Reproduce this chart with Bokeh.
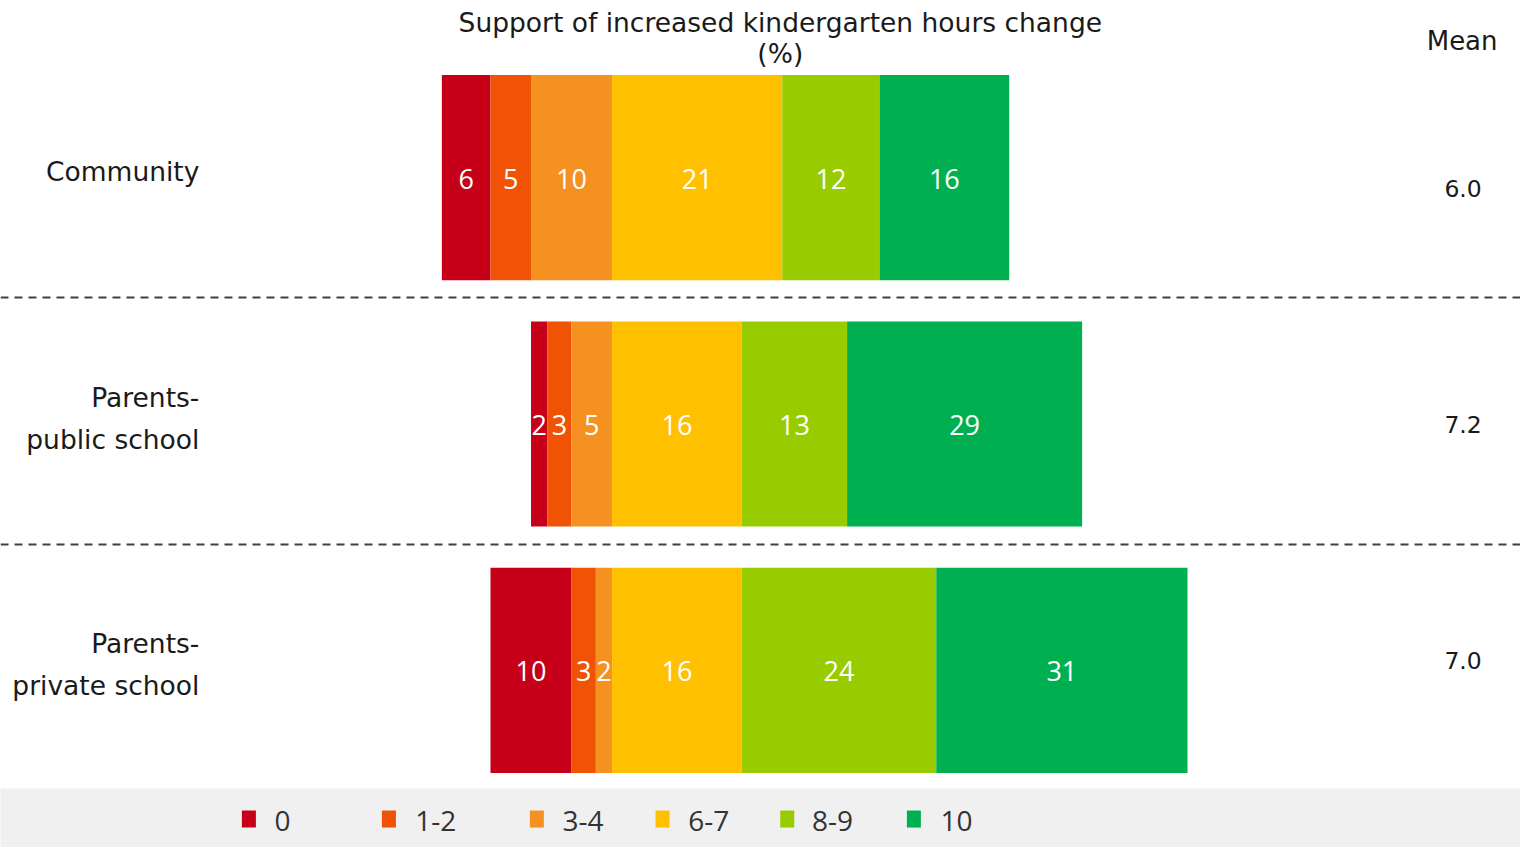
from bokeh.plotting import figure
from bokeh.models import Range1d, ColumnDataSource
from bokeh.core.properties import value
from bokeh.embed import file_html
from bokeh.resources import INLINE
import numpy as np

# ---------------- data ----------------
groups = ["Community", "Parents-\npublic school", "Parents-\nprivate school"]
categories = ["0", "1-2", "3-4", "6-7", "8-9", "10"]
colors = ["#C50018", "#F05206", "#F59120", "#FFC000", "#99CC00", "#00B050"]
v_0 = [6, 2, 10]
v_1_2 = [5, 3, 3]
v_3_4 = [10, 5, 2]
v_6_7 = [21, 16, 16]
v_8_9 = [12, 13, 24]
v_10 = [16, 29, 31]
means = ["6.0", "7.2", "7.0"]
title_lines = ["Support of increased kindergarten hours change", "(%)"]
mean_title = "Mean"

# ---------------- layout ----------------
W, H = 1520, 847
REF_W, REF_H = 1536, 863
PX_PER_UNIT = 8.19
ZERO_X = 618
ROW_PX = 251
ROW0_Y = 180.5

def dx(x):
    return (x - ZERO_X) / PX_PER_UNIT

def dy(y):
    return (y - ROW0_Y) / ROW_PX

p = figure(width=W, height=H, output_backend="svg", toolbar_location=None,
           x_range=Range1d(dx(0), dx(REF_W)), y_range=Range1d(dy(REF_H), dy(0)),
           min_border=0)
p.axis.visible = False
p.grid.visible = False
p.outline_line_color = None
p.background_fill_color = "white"
p.border_fill_color = "white"

rows = np.arange(len(groups))
BAR_H = 209 / ROW_PX
TXT = "#1a1a1a"

# legend band
p.quad(left=dx(-50), right=dx(1700), bottom=dy(803), top=dy(950),
       fill_color="#F0F0F0", line_color=None)

# stacked bars: negative side stacks leftward from zero
neg = [np.array(v_0), np.array(v_1_2), np.array(v_3_4)]
pos = [np.array(v_6_7), np.array(v_8_9), np.array(v_10)]
right = np.zeros(len(groups))
neg_segs = []
for vals in reversed(neg):
    left = right - vals
    neg_segs.append((left, right, vals))
    right = left
neg_segs = list(reversed(neg_segs))
left = np.zeros(len(groups))
pos_segs = []
for vals in pos:
    r = left + vals
    pos_segs.append((left, r, vals))
    left = r
segments = neg_segs + pos_segs

for (l, r, vals), c in zip(segments, colors):
    src = ColumnDataSource(dict(y=rows, left=l, right=r, mid=(l + r) / 2,
                                lab=[str(v) for v in vals]))
    p.hbar(y="y", left="left", right="right", height=BAR_H, source=src,
           fill_color=c, line_color=None)
    p.text(x="mid", y="y", text="lab", source=src, text_color="white",
           text_font=value("Open Sans"), text_font_size="27px",
           text_align="center", text_baseline="middle", y_offset=1)

# dashed separators
for i in range(len(groups) - 1):
    p.hspan(y=i + 0.5 - 3 / ROW_PX, line_color="#404040", line_width=2,
            line_dash="8 6")

# group labels (right aligned)
lx, ly, lt = [], [], []
for i, g in enumerate(groups):
    lines = g.split("\n")
    n = len(lines)
    for j, t in enumerate(lines):
        lx.append(dx(201))
        ly.append(i + ((j - (n - 1) / 2) * 43 - 6) / ROW_PX)
        lt.append(t)
p.text(x=lx, y=ly, text=lt, text_font=value("DejaVu Sans"),
       text_font_size="26.5px", text_color=TXT,
       text_align="right", text_baseline="middle")

# title
p.text(x=[dx(788)] * 2, y=[dy(22), dy(54)], text=title_lines,
       text_font=value("DejaVu Sans"), text_font_size="26.5px",
       text_color=TXT, text_align="center", text_baseline="middle")

# means
p.text(x=[dx(1477)], y=[dy(41)], text=[mean_title],
       text_font=value("DejaVu Sans"), text_font_size="26px",
       text_color=TXT, text_align="center", text_baseline="middle")
mean_off = [11, 0, -10]
p.text(x=[dx(1478)] * len(means), y=[i + mean_off[i] / ROW_PX for i in rows],
       text=means, text_font=value("DejaVu Sans"), text_font_size="23.5px",
       text_color=TXT, text_align="center", text_baseline="middle")

# legend
marker_px = [251, 392.5, 542, 669, 795, 923]
label_px = [277, 419, 568, 695, 820, 950]
p.rect(x=[dx(v) for v in marker_px], y=[dy(834)] * len(categories),
       width=14, height=17, width_units="screen", height_units="screen",
       fill_color=colors, line_color=None)
p.text(x=[dx(v) for v in label_px], y=[dy(836)] * len(categories),
       text=categories, text_font=value("Open Sans"), text_font_size="28px",
       text_color="#333333", text_align="left", text_baseline="middle")

open("out.html", "w").write(file_html(p, INLINE))
